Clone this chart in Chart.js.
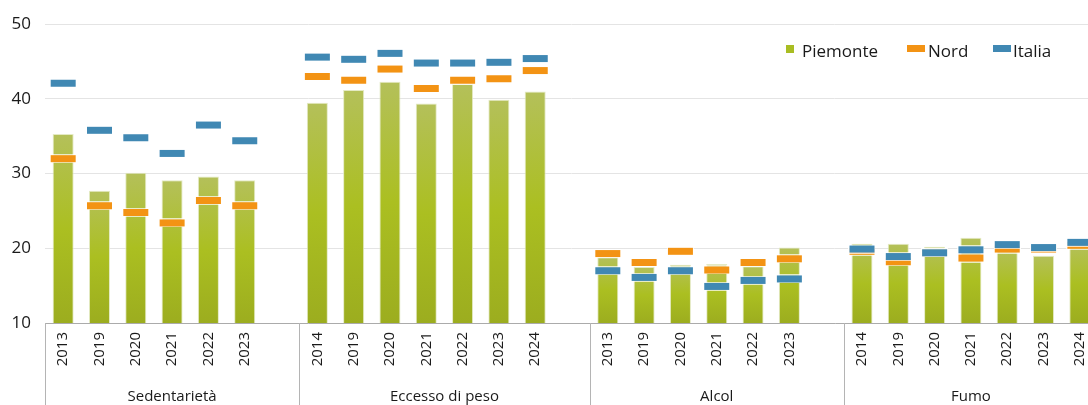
<!DOCTYPE html>
<html>
<head>
<meta charset="utf-8">
<script src="https://cdn.jsdelivr.net/npm/chart.js@4/dist/chart.umd.min.js"></script>
<style>
  html, body { margin: 0; padding: 0; background: #fff; overflow: hidden; width: 1088px; height: 405px; }
  #wrap { position: relative; width: 1104px; height: 405px; }
  #legend { position: absolute; top: 39px; left: 786px; font-family: "Open Sans", sans-serif; font-size: 17px; color: #1a1a1a; white-space: nowrap; }
  #legend span.item { position: absolute; top: 0; line-height: 24px; }
  #legend i { position: absolute; display: block; }
</style>
</head>
<body>
<div id="wrap">
  <canvas id="c" width="1104" height="405"></canvas>
  <div id="legend"></div>
</div>
<script>
// ---- data ----
const groups = ['Sedentarietà', 'Eccesso di peso', 'Alcol', 'Fumo'];
const seriesNames = ['Piemonte', 'Nord', 'Italia'];

const sedYears    = ['2013', '2019', '2020', '2021', '2022', '2023'];
const sedPiemonte = [35.3, 27.7, 30.1, 29.1, 29.6, 29.1];
const sedNord     = [32.0, 25.7, 24.8, 23.4, 26.4, 25.7];
const sedItalia   = [42.1, 35.8, 34.8, 32.7, 36.5, 34.4];

const pesoYears    = ['2014', '2019', '2020', '2021', '2022', '2023', '2024'];
const pesoPiemonte = [39.5, 41.2, 42.3, 39.4, 42.0, 39.9, 41.0];
const pesoNord     = [43.0, 42.5, 44.0, 41.4, 42.5, 42.7, 43.8];
const pesoItalia   = [45.6, 45.3, 46.1, 44.8, 44.8, 44.9, 45.4];

const alcolYears    = ['2013', '2019', '2020', '2021', '2022', '2023'];
const alcolPiemonte = [18.8, 17.5, 17.8, 17.9, 17.6, 20.1];
const alcolNord     = [19.3, 18.1, 19.6, 17.1, 18.1, 18.6];
const alcolItalia   = [17.0, 16.1, 17.0, 14.9, 15.7, 15.9];

const fumoYears    = ['2014', '2019', '2020', '2021', '2022', '2023', '2024'];
const fumoPiemonte = [20.6, 20.6, 20.2, 21.4, 20.0, 19.0, 20.5];
const fumoNord     = [19.6, 18.2, 19.4, 18.7, 19.9, 19.9, 20.4];
const fumoItalia   = [19.9, 18.9, 19.4, 19.8, 20.5, 20.1, 20.8];

const yTicks = [10, 20, 30, 40, 50];

// ---- build flattened category table (a gap slot between groups) ----
const groupYears = [sedYears, pesoYears, alcolYears, fumoYears];
const groupP = [sedPiemonte, pesoPiemonte, alcolPiemonte, fumoPiemonte];
const groupN = [sedNord, pesoNord, alcolNord, fumoNord];
const groupI = [sedItalia, pesoItalia, alcolItalia, fumoItalia];

const labels = [], dP = [], dN = [], dI = [];
const boundaries = [], centers = [];
groupYears.forEach((yrs, g) => {
  const start = labels.length;
  boundaries.push(start);
  yrs.forEach((y, k) => { labels.push(y); dP.push(groupP[g][k]); dN.push(groupN[g][k]); dI.push(groupI[g][k]); });
  if (g < groupYears.length - 1) { labels.push(''); dP.push(null); dN.push(null); dI.push(null); }
  centers.push((start + labels.length) / 2);
});
const totalSlots = labels.length;

// ---- styles ----
const FONT = '"Open Sans", sans-serif';
const GREEN_SWATCH = '#a9bd22';
const ORANGE = '#f39314';
const BLUE = '#4088b3';

function markerCanvas(color) {
  const w = 27, h = 9;
  const cv = document.createElement('canvas');
  cv.width = w; cv.height = h;
  const g = cv.getContext('2d');
  g.fillStyle = 'rgba(255,255,255,0.7)';
  g.fillRect(0, 0, w, h);
  g.fillStyle = color;
  g.fillRect(1, 1, w - 2, h - 2);
  return cv;
}

function barGradient(ctx) {
  const chart = ctx.chart;
  const area = chart.chartArea;
  if (!area || ctx.type !== 'data' || ctx.raw == null) return GREEN_SWATCH;
  const yTop = chart.scales.y.getPixelForValue(ctx.raw);
  const yBot = area.bottom;
  const gr = chart.ctx.createLinearGradient(0, yTop, 0, yBot);
  gr.addColorStop(0, '#b4c05a');
  gr.addColorStop(0.5, '#abbf21');
  gr.addColorStop(1, '#9cad1f');
  return gr;
}

function noSidePadding(s) { s.paddingLeft = 0; s.paddingRight = 0; }

const separators = {
  id: 'separators',
  afterDraw(chart) {
    const x2 = chart.scales.x2, c = chart.ctx;
    c.save();
    c.strokeStyle = '#b4b4b4';
    c.lineWidth = 1;
    boundaries.forEach(b => {
      const px = Math.round(x2.getPixelForValue(b)) + 0.5;
      c.beginPath();
      c.moveTo(px, chart.chartArea.bottom);
      c.lineTo(px, chart.height);
      c.stroke();
    });
    c.restore();
  }
};

new Chart(document.getElementById('c'), {
  type: 'bar',
  data: {
    labels: labels,
    datasets: [
      { label: seriesNames[0], data: dP, order: 3, backgroundColor: barGradient,
        borderColor: 'rgba(225,232,190,0.9)', borderWidth: 1,
        categoryPercentage: 1.0, barPercentage: 0.58 },
      { type: 'line', label: seriesNames[1], data: dN, order: 2, showLine: false,
        pointStyle: markerCanvas(ORANGE), pointRadius: 5, borderColor: ORANGE, backgroundColor: ORANGE },
      { type: 'line', label: seriesNames[2], data: dI, order: 1, showLine: false,
        pointStyle: markerCanvas(BLUE), pointRadius: 5, borderColor: BLUE, backgroundColor: BLUE }
    ]
  },
  options: {
    responsive: false,
    animation: false,
    devicePixelRatio: 1,
    layout: { padding: { top: 18, right: 0, left: 0, bottom: 0 } },
    plugins: { legend: { display: false }, tooltip: { enabled: false } },
    scales: {
      y: {
        min: 10, max: 50,
        afterBuildTicks: s => { s.ticks = yTicks.map(v => ({ value: v })); },
        afterFit: s => { s.width = 45; },
        grid: { color: '#e4e4e4', drawTicks: false, tickLength: 0 },
        border: { display: false },
        ticks: { padding: 14, color: '#1a1a1a', font: { family: FONT, size: 17 } }
      },
      x: {
        type: 'category',
        offset: true,
        afterFit: s => { s.height = 50; noSidePadding(s); },
        grid: { display: false, drawTicks: false, tickLength: 0 },
        border: { display: true, color: '#ababab', width: 1 },
        ticks: { autoSkip: false, minRotation: 90, maxRotation: 90, padding: 9,
                 color: '#1a1a1a', font: { family: FONT, size: 15 } }
      },
      x2: {
        type: 'linear',
        position: 'bottom',
        offset: false,
        bounds: 'data',
        min: 0, max: totalSlots,
        afterBuildTicks: s => { s.ticks = centers.map(v => ({ value: v })); },
        afterFit: s => { s.height = 32; noSidePadding(s); },
        grid: { display: false, offset: false, drawTicks: false, tickLength: 0 },
        border: { display: false },
        ticks: { autoSkip: false, maxRotation: 0, minRotation: 0, padding: 15,
                 color: '#1a1a1a', font: { family: FONT, size: 15 } ,
                 callback: v => { const i = centers.indexOf(v); return i >= 0 ? groups[i] : ''; } }
      }
    }
  },
  plugins: [separators]
});

// ---- HTML legend ----
const legend = document.getElementById('legend');
const legendItems = [
  { name: seriesNames[0], color: GREEN_SWATCH, x: 0, w: 8, h: 8, top: 6, tx: 16 },
  { name: seriesNames[1], color: ORANGE, x: 121, w: 18, h: 7, top: 6, tx: 142 },
  { name: seriesNames[2], color: BLUE, x: 207, w: 18, h: 7, top: 6, tx: 227 }
];
legendItems.forEach(it => {
  const sw = document.createElement('i');
  sw.style.left = it.x + 'px'; sw.style.top = it.top + 'px';
  sw.style.width = it.w + 'px'; sw.style.height = it.h + 'px';
  sw.style.background = it.color;
  legend.appendChild(sw);
  const t = document.createElement('span');
  t.className = 'item';
  t.style.left = it.tx + 'px';
  t.textContent = it.name;
  legend.appendChild(t);
});
</script>
</body>
</html>
